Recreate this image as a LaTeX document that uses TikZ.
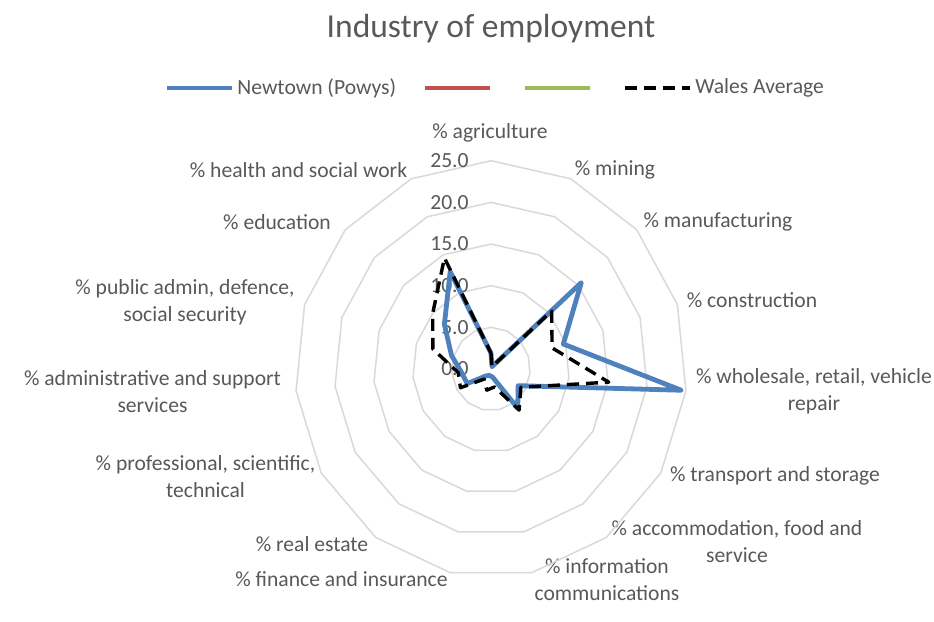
\documentclass[tikz,border=0pt]{standalone}
\usepackage{fontspec}
\setmainfont{Carlito}
\usetikzlibrary{positioning}
\definecolor{lblgray}{HTML}{595959}
\definecolor{gridgray}{HTML}{D9D9D9}
\definecolor{nblue}{HTML}{4F81BD}
\definecolor{sred}{HTML}{C0504D}
\definecolor{sgreen}{HTML}{9BBB59}

\begin{document}
\begin{tikzpicture}
[x=0.5pt,y=-0.5pt,
L/.style={text=lblgray,font=\fontsize{10.8}{13.5}\selectfont,inner sep=0pt,align=center},
T/.style={text=lblgray,font=\fontsize{16.75}{20}\selectfont,inner sep=0pt},
ring/.style={gridgray,line width=0.75pt},
nline/.style={nblue,line width=2.4pt,line join=round},
wline/.style={black,line width=1.7pt,dash pattern=on 6pt off 3.5pt,line join=round},
key/.style={line width=2.4pt}]
%%
\path[use as bounding box,fill=white] (0,0) rectangle (934,622);
%%
%%%%%%%%%%%%%%%%%%
% title and legend
%%%%%%%%%%%%%%%%%%
\node[T] (title) at (491,29) {Industry of employment};
%%
\coordinate (k1a) at (167,88);
\coordinate (k1b) at (232,88);
\draw[key,nblue] (k1a) -- (k1b);
\node[L,right=2.5pt of k1b] (k1t) {Newtown (Powys)};
%%
\coordinate (k2a) at (425,88);
\coordinate (k2b) at (490,88);
\draw[key,sred] (k2a) -- (k2b);
%%
\coordinate (k3a) at (525,88);
\coordinate (k3b) at (590,88);
\draw[key,sgreen] (k3a) -- (k3b);
%%
\coordinate (k4a) at (625,88);
\coordinate (k4b) at (690,88);
\draw[wline] (k4a) -- (k4b);
\node[L,right=2.5pt of k4b] (k4t) {Wales Average};
%%
%%%%%%%%%%%%%%%%%%
% category labels
%%%%%%%%%%%%%%%%%%
\node[L] (lagri) at (490,133) {\% agriculture};
\node[L] (lmin) at (615,170) {\% mining};
\node[L] (lmanu) at (718,222) {\% manufacturing};
\node[L] (lcons) at (752,300) {\% construction};
\node[L] (lwhol) at (814,391.5) {\% wholesale, retail, vehicle\\repair};
\node[L] (ltran) at (775,476) {\% transport and storage};
\node[L] (lacco) at (737,542) {\% accommodation, food and\\service};
\node[L] (linfo) at (607,579.5) {\% information\\communications};
\node[L] (lfina) at (341.5,579) {\% finance and insurance};
\node[L] (lreal) at (312,544) {\% real estate};
\node[L] (lprof) at (205.5,476.5) {\% professional, scientific,\\technical};
\node[L] (ladmi) at (152.5,391.5) {\% administrative and support\\services};
\node[L] (lpubl) at (185,302) {\% public admin, defence,\\social security};
\node[L] (leduc) at (277,222) {\% education};
\node[L] (lheal) at (298.5,170) {\% health and social work};
%%
%%%%%%%%%%%%%%%%%%
% radar
%%%%%%%%%%%%%%%%%%
\coordinate (ctr) at (491,369);
\begin{scope}[shift={(ctr)},x=3.92pt,y=4.165pt]
%% grid rings
\foreach \r in {5,10,...,25}
  \draw[ring] (90:\r) \foreach \k in {1,...,14} { -- ({90-24*\k}:\r) } -- cycle;
%% value axis
\foreach \v in {0,5,...,25}
  \node[L,anchor=east,xshift=-11pt] (v\v) at (0,\v) {\v.0};
%% Newtown (Powys)
\draw[nline] (90:1.9) \foreach \v [count=\i] in {0.3,15.5,9.7,24.4,4.0,5.8,1.0,0.8,1.0,3.5,3.8,5.3,8.0,12.8}
  { -- ({90-24*\i}:\v) } -- cycle;
%% Wales Average
\draw[wline] (90:1.9) \foreach \v [count=\i] in {0.3,10.4,8.2,15.1,4.4,6.1,2.2,2.6,1.5,4.5,4.2,7.8,10.0,14.6}
  { -- ({90-24*\i}:\v) } -- cycle;
\end{scope}
%%
\end{tikzpicture}
\end{document}
